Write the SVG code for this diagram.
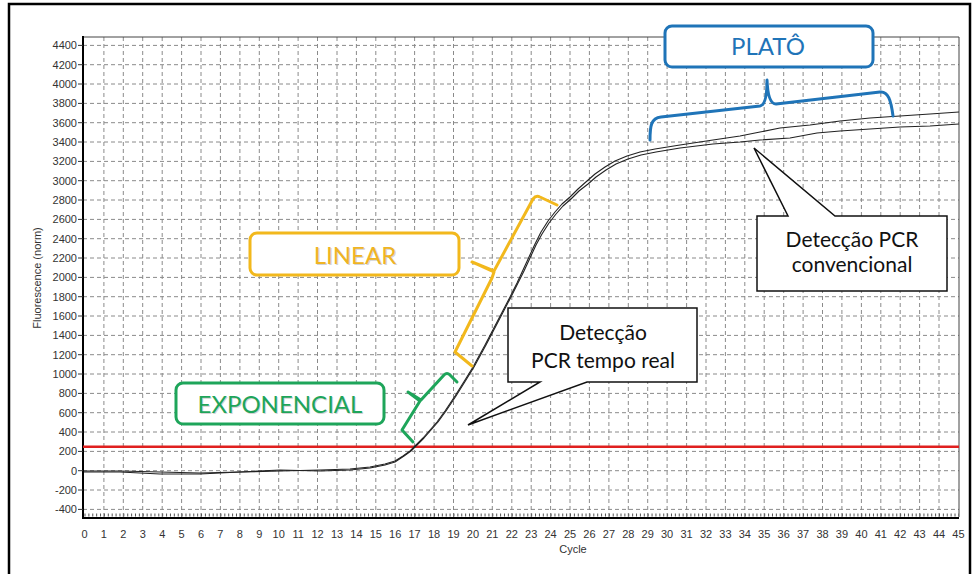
<svg xmlns="http://www.w3.org/2000/svg" width="974" height="574" viewBox="0 0 974 574">
<style>
.grid{stroke:#8a8a8a;stroke-width:1;stroke-dasharray:4 3;fill:none}
.tl{font-family:"Liberation Sans",Arial,sans-serif;font-size:11px;fill:#333}
.curve{fill:none;stroke:#222;stroke-width:1.1;stroke-linejoin:round}
.call{fill:#fff;stroke:#111;stroke-width:1.5}
.ct{font-family:Lato,"Open Sans",sans-serif;font-size:21px;fill:#111;text-anchor:middle}
.lbl{font-family:Lato,"Open Sans",sans-serif;font-size:24px;text-anchor:middle}
.brace{fill:none;stroke-width:3;stroke-linecap:round;stroke-linejoin:round}
</style>
<rect x="0" y="0" width="974" height="574" fill="#fff"/>
<rect x="9" y="4" width="961" height="580" fill="none" stroke="#000" stroke-width="2.5"/>
<g id="grid">
<path class="grid" d="M83,45.4H959M83,64.7H959M83,84H959M83,103.4H959M83,122.7H959M83,142H959M83,161.4H959M83,180.7H959M83,200H959M83,219.4H959M83,238.7H959M83,258H959M83,277.4H959M83,296.7H959M83,316H959M83,335.4H959M83,354.7H959M83,374H959M83,393.4H959M83,412.7H959M83,432H959M83,451.4H959M83,470.7H959M83,490H959M83,509.4H959"/>
<path class="grid" d="M103.9,37V517M123.3,37V517M142.7,37V517M162.2,37V517M181.6,37V517M201,37V517M220.4,37V517M239.9,37V517M259.3,37V517M278.7,37V517M298.1,37V517M317.5,37V517M337,37V517M356.4,37V517M375.8,37V517M395.2,37V517M414.6,37V517M434.1,37V517M453.5,37V517M472.9,37V517M492.3,37V517M511.8,37V517M531.2,37V517M550.6,37V517M570,37V517M589.4,37V517M608.9,37V517M628.3,37V517M647.7,37V517M667.1,37V517M686.6,37V517M706,37V517M725.4,37V517M744.8,37V517M764.2,37V517M783.7,37V517M803.1,37V517M822.5,37V517M841.9,37V517M861.4,37V517M880.8,37V517M900.2,37V517M919.6,37V517M939,37V517"/>
</g>
<g id="axes">
<path d="M83,37H959V517" fill="none" stroke="#444" stroke-width="1"/>
<path d="M83,36V518H959" fill="none" stroke="#000" stroke-width="2"/>
<path d="M78,45.4H83M78,64.7H83M78,84H83M78,103.4H83M78,122.7H83M78,142H83M78,161.4H83M78,180.7H83M78,200H83M78,219.4H83M78,238.7H83M78,258H83M78,277.4H83M78,296.7H83M78,316H83M78,335.4H83M78,354.7H83M78,374H83M78,393.4H83M78,412.7H83M78,432H83M78,451.4H83M78,470.7H83M78,490H83M78,509.4H83" stroke="#333" stroke-width="1"/>
<line x1="84.5" y1="515" x2="959" y2="515" stroke="#555" stroke-width="3" stroke-dasharray="1 2.884"/>
<g class="tl" text-anchor="end">
<text x="77" y="49.4">4400</text><text x="77" y="68.7">4200</text><text x="77" y="88">4000</text><text x="77" y="107.4">3800</text><text x="77" y="126.7">3600</text><text x="77" y="146">3400</text><text x="77" y="165.4">3200</text><text x="77" y="184.7">3000</text><text x="77" y="204">2800</text><text x="77" y="223.4">2600</text><text x="77" y="242.7">2400</text><text x="77" y="262">2200</text><text x="77" y="281.4">2000</text><text x="77" y="300.7">1800</text><text x="77" y="320">1600</text><text x="77" y="339.4">1400</text><text x="77" y="358.7">1200</text><text x="77" y="378">1000</text><text x="77" y="397.4">800</text><text x="77" y="416.7">600</text><text x="77" y="436">400</text><text x="77" y="455.4">200</text><text x="77" y="474.7">0</text><text x="77" y="494">-200</text><text x="77" y="513.4">-400</text>
</g>
<g class="tl" text-anchor="middle">
<text x="84.5" y="538">0</text><text x="103.9" y="538">1</text><text x="123.3" y="538">2</text><text x="142.7" y="538">3</text><text x="162.2" y="538">4</text><text x="181.6" y="538">5</text><text x="201" y="538">6</text><text x="220.4" y="538">7</text><text x="239.9" y="538">8</text><text x="259.3" y="538">9</text><text x="278.7" y="538">10</text><text x="298.1" y="538">11</text><text x="317.5" y="538">12</text><text x="337" y="538">13</text><text x="356.4" y="538">14</text><text x="375.8" y="538">15</text><text x="395.2" y="538">16</text><text x="414.6" y="538">17</text><text x="434.1" y="538">18</text><text x="453.5" y="538">19</text><text x="472.9" y="538">20</text><text x="492.3" y="538">21</text><text x="511.8" y="538">22</text><text x="531.2" y="538">23</text><text x="550.6" y="538">24</text><text x="570" y="538">25</text><text x="589.4" y="538">26</text><text x="608.9" y="538">27</text><text x="628.3" y="538">28</text><text x="647.7" y="538">29</text><text x="667.1" y="538">30</text><text x="686.6" y="538">31</text><text x="706" y="538">32</text><text x="725.4" y="538">33</text><text x="744.8" y="538">34</text><text x="764.2" y="538">35</text><text x="783.7" y="538">36</text><text x="803.1" y="538">37</text><text x="822.5" y="538">38</text><text x="841.9" y="538">39</text><text x="861.4" y="538">40</text><text x="880.8" y="538">41</text><text x="900.2" y="538">42</text><text x="919.6" y="538">43</text><text x="939" y="538">44</text><text x="958.4" y="538">45</text>
<text x="573" y="553">Cycle</text>
<text transform="translate(41,278) rotate(-90)">Fluorescence (norm)</text>
</g>
</g>
<line id="threshold" x1="83" y1="446.7" x2="959" y2="446.7" stroke="#e0201f" stroke-width="2.5"/>
<g id="curves">
<polyline class="curve" points="84,471 120,471 160,472 200,473 240,472 280,471 320,470 350,469 370,467 385,464 395,461 403,456 410,451 416,445 423,438 430,430 437,422 445,411 455,396 465,380 473,367 485,345 497,322 510,297 517,283 523,270 529,257 535,244 541,232 548,221 555,212 562,204 570,197 578,189 587,181 595,174 605,167 615,161 627,156 640,152 655,149 680,145 713,140 740,136 760,132 780,128 810,125 840,121 870,118 900,116 930,114 959,112"/>
<polyline class="curve" points="84,472 120,472 160,474 200,474 240,472 280,470 320,471 350,470 370,468 385,465 395,462 404,456 411,451 417,445 424,438 431,430 438,422 446,411 456,396 466,380 474,367 486,345 498,322 511,297 518,283 524,271 530,258 536,245 542,234 549,223 556,214 563,206 571,199 579,191 588,184 596,177 606,170 616,164 628,159 641,155 656,152 680,148 713,144 740,142 760,140 790,138 817,133 840,131 870,129 900,127 930,126 959,124"/>
</g>
<g id="plato">
<path class="brace" stroke="#1f74b8" d="M650,140 C650,126 651,118 661,117 L760,106 Q767,105 767,80 Q768,104 776,104 L880,92 C888,91 891,100 893,116"/>
<rect x="665" y="26" width="208" height="41" rx="7" fill="#fff" stroke="#1f74b8" stroke-width="3"/>
<text class="lbl" x="768" y="55" fill="#1f74b8">PLATÔ</text>
</g>
<g id="linear">
<path class="brace" stroke="#f2b81c" d="M472,366 L455,352 L492,278 L494,272 L472,262 L494,271 L533,199 Q536,195 540,197 L557,205"/>
<rect x="250" y="233" width="209" height="42" rx="7" fill="#fff" stroke="#f2b81c" stroke-width="3"/>
<text class="lbl" x="356" y="265" fill="#b8b8b8" opacity="0.6">LINEAR</text>
<text class="lbl" x="355" y="264" fill="#efb424">LINEAR</text>
</g>
<g id="exponencial">
<path class="brace" stroke="#1ea55a" d="M413,442 L402,430 L420,401 L408,392 L421,400 L444,375 Q447,372 450,375 L457,382"/>
<rect x="176" y="383" width="208" height="41" rx="7" fill="#fff" stroke="#1ea55a" stroke-width="3"/>
<text class="lbl" x="281" y="414" fill="#b8b8b8" opacity="0.6">EXPONENCIAL</text>
<text class="lbl" x="280" y="413" fill="#1ea55a">EXPONENCIAL</text>
</g>
<g id="tempo-real">
<path class="call" d="M508,308H697V382H587L468,425L540,382H508Z"/>
<text class="ct" x="603" y="340">Detecção</text>
<text class="ct" x="603" y="368">PCR tempo real</text>
</g>
<g id="convencional">
<path class="call" d="M757,216H788L754,148L835,216H947V291H757Z"/>
<text class="ct" x="852" y="247">Detecção PCR</text>
<text class="ct" x="852" y="272">convencional</text>
</g>
</svg>
